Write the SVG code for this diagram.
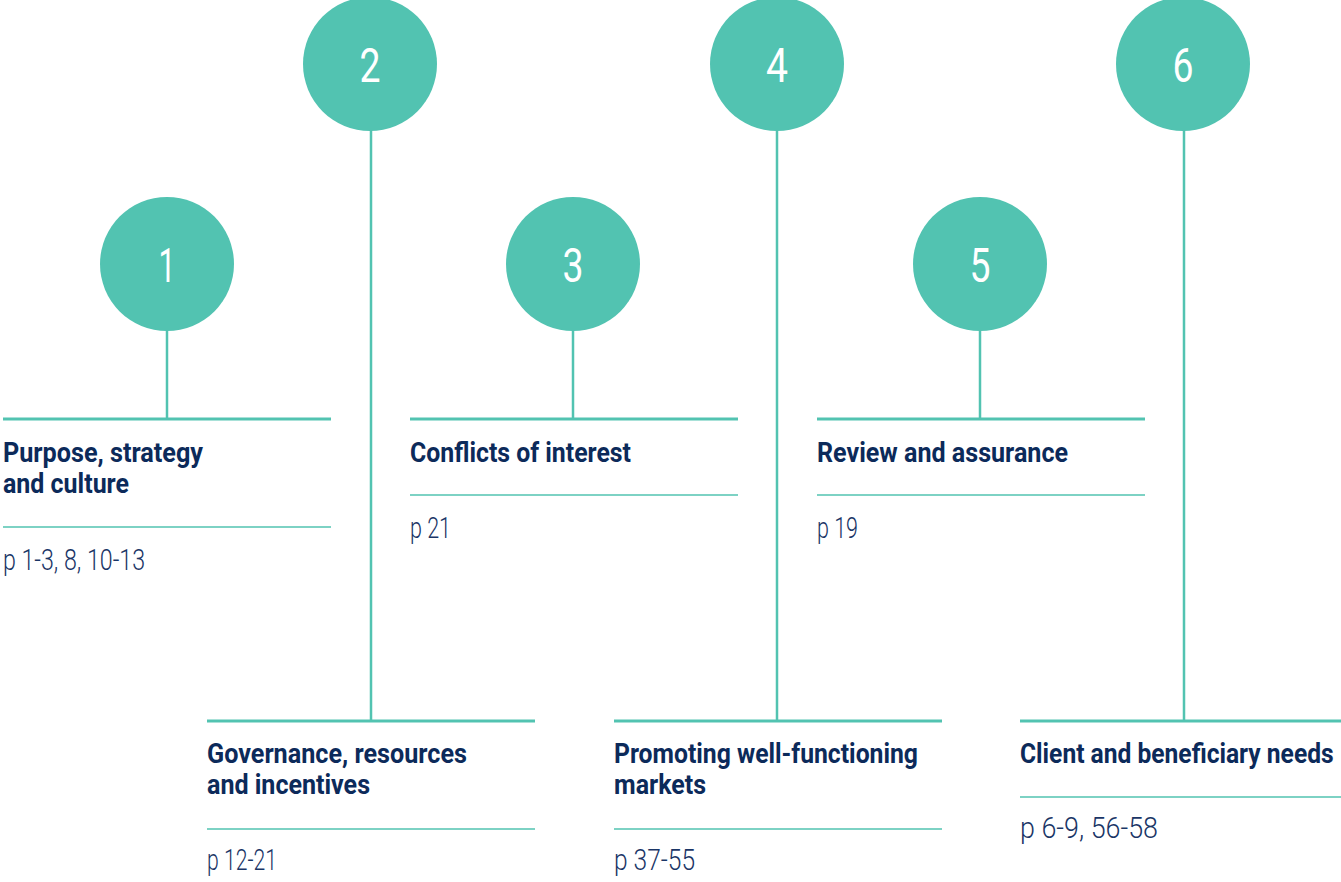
<svg xmlns="http://www.w3.org/2000/svg" width="1341" height="882" viewBox="0 0 1341 882">
<style>
.circ{fill:#52c3b1}
.num{fill:#fff;font-family:Roboto,"Liberation Sans",sans-serif;font-size:48px;text-anchor:middle}
.thick{stroke:#52c3b1;stroke-width:3;fill:none}
.thin{stroke:#52c3b1;stroke-width:1.3;fill:none}
.stem{stroke:#52c3b1;stroke-width:2.5;fill:none}
.title{fill:#0c2a5a;font-family:Roboto,"Liberation Sans",sans-serif;font-weight:700;font-size:28px}
.page{fill:#1a3566;font-family:Roboto,"Liberation Sans",sans-serif;font-weight:300;font-size:29px}
</style>
<rect width="1341" height="882" fill="#fff"/>
<g id="connectors">
<line class="stem" x1="167" y1="330" x2="167" y2="419"/>
<line class="stem" x1="573" y1="330" x2="573" y2="419"/>
<line class="stem" x1="980" y1="330" x2="980" y2="419"/>
<line class="stem" x1="371" y1="130" x2="371" y2="721"/>
<line class="stem" x1="777" y1="130" x2="777" y2="721"/>
<line class="stem" x1="1184" y1="130" x2="1184" y2="721"/>
</g>
<g id="node1">
<circle class="circ" cx="167" cy="264" r="67"/>
<text class="num" x="167" y="282" textLength="17" lengthAdjust="spacingAndGlyphs">1</text>
<line class="thick" x1="3" y1="419" x2="331" y2="419"/>
<text class="title" x="3" y="462" textLength="200" lengthAdjust="spacingAndGlyphs">Purpose, strategy</text>
<text class="title" x="3" y="493" textLength="126" lengthAdjust="spacingAndGlyphs">and culture</text>
<line class="thin" x1="3" y1="527" x2="331" y2="527"/>
<text class="page" x="3" y="570" textLength="142" lengthAdjust="spacingAndGlyphs">p 1-3, 8, 10-13</text>
</g>
<g id="node2">
<circle class="circ" cx="370" cy="64" r="67"/>
<text class="num" x="370" y="82" textLength="21" lengthAdjust="spacingAndGlyphs">2</text>
<line class="thick" x1="207" y1="721" x2="535" y2="721"/>
<text class="title" x="207" y="763" textLength="260" lengthAdjust="spacingAndGlyphs">Governance, resources</text>
<text class="title" x="207" y="794" textLength="163" lengthAdjust="spacingAndGlyphs">and incentives</text>
<line class="thin" x1="207" y1="829" x2="535" y2="829"/>
<text class="page" x="207" y="870" textLength="70" lengthAdjust="spacingAndGlyphs">p 12-21</text>
</g>
<g id="node3">
<circle class="circ" cx="573" cy="264" r="67"/>
<text class="num" x="573" y="282" textLength="21" lengthAdjust="spacingAndGlyphs">3</text>
<line class="thick" x1="410" y1="419" x2="738" y2="419"/>
<text class="title" x="410" y="462" textLength="221" lengthAdjust="spacingAndGlyphs">Conflicts of interest</text>
<line class="thin" x1="410" y1="495" x2="738" y2="495"/>
<text class="page" x="410" y="538" textLength="41" lengthAdjust="spacingAndGlyphs">p 21</text>
</g>
<g id="node4">
<circle class="circ" cx="777" cy="64" r="67"/>
<text class="num" x="777" y="82" textLength="22" lengthAdjust="spacingAndGlyphs">4</text>
<line class="thick" x1="614" y1="721" x2="942" y2="721"/>
<text class="title" x="614" y="763" textLength="304" lengthAdjust="spacingAndGlyphs">Promoting well-functioning</text>
<text class="title" x="614" y="794" textLength="92" lengthAdjust="spacingAndGlyphs">markets</text>
<line class="thin" x1="614" y1="829" x2="942" y2="829"/>
<text class="page" x="614" y="870" textLength="81" lengthAdjust="spacingAndGlyphs">p 37-55</text>
</g>
<g id="node5">
<circle class="circ" cx="980" cy="264" r="67"/>
<text class="num" x="980" y="282" textLength="21" lengthAdjust="spacingAndGlyphs">5</text>
<line class="thick" x1="817" y1="419" x2="1145" y2="419"/>
<text class="title" x="817" y="462" textLength="251" lengthAdjust="spacingAndGlyphs">Review and assurance</text>
<line class="thin" x1="817" y1="495" x2="1145" y2="495"/>
<text class="page" x="817" y="538" textLength="41" lengthAdjust="spacingAndGlyphs">p 19</text>
</g>
<g id="node6">
<circle class="circ" cx="1183" cy="64" r="67"/>
<text class="num" x="1183" y="82" textLength="21" lengthAdjust="spacingAndGlyphs">6</text>
<line class="thick" x1="1020" y1="721" x2="1341" y2="721"/>
<text class="title" transform="translate(1020,763) scale(0.85,1)" x="0" y="0" textLength="369" lengthAdjust="spacingAndGlyphs">Client and beneficiary needs</text>
<line class="thin" x1="1020" y1="797" x2="1341" y2="797"/>
<text class="page" x="1020" y="838" textLength="138" lengthAdjust="spacingAndGlyphs">p 6-9, 56-58</text>
</g>
</svg>
